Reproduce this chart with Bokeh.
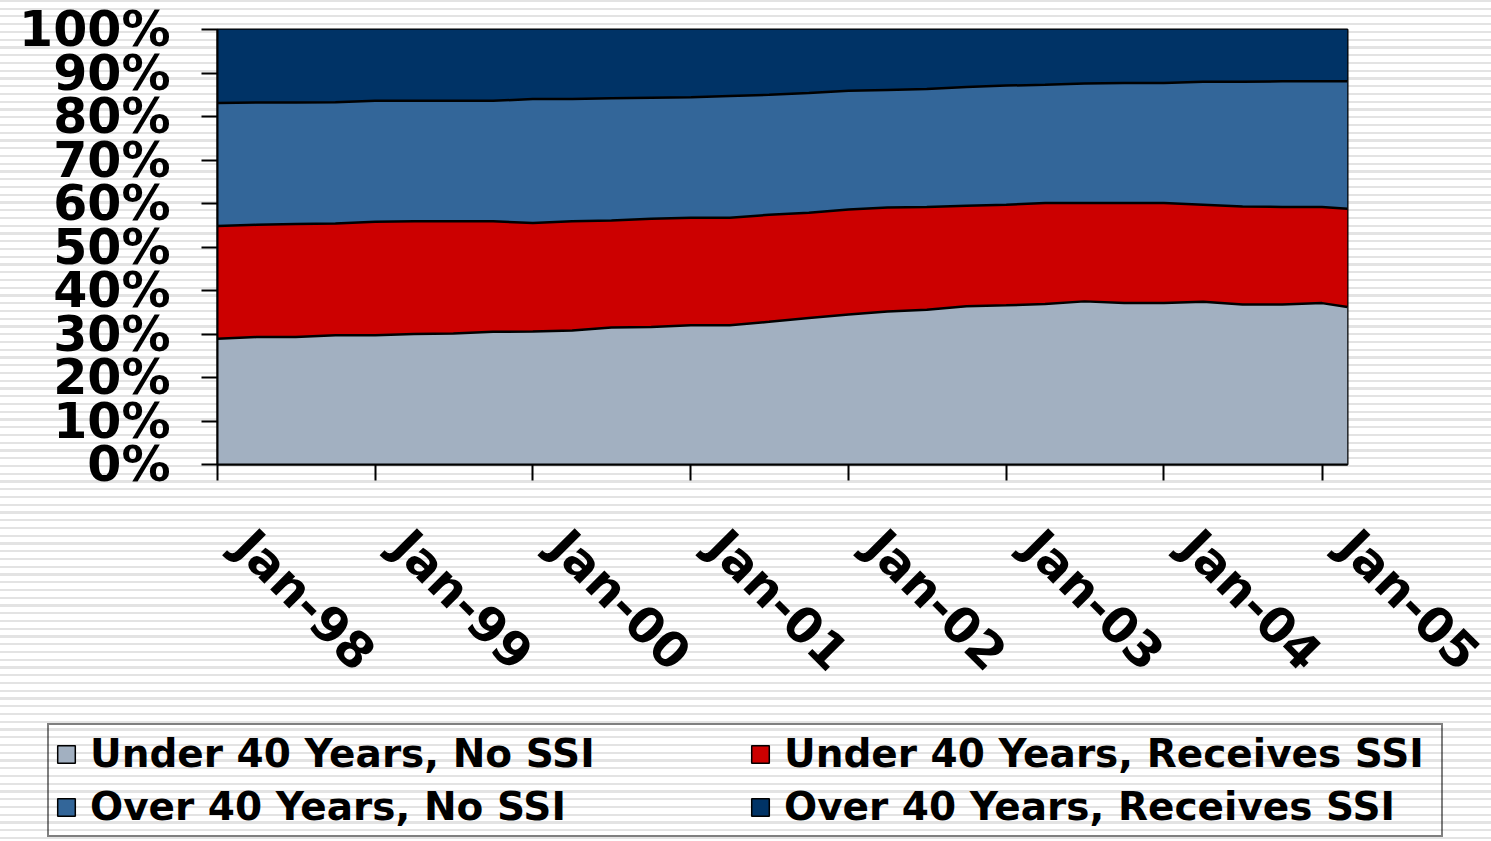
import math
import pandas as pd
from bokeh.plotting import figure
from bokeh.layouts import column
from bokeh.models import (ColumnDataSource, Range1d, FixedTicker, DatetimeTickFormatter,
                          PrintfTickFormatter, Legend, LegendItem, DatetimeAxis,
                          CustomJSTickFormatter)
from bokeh.embed import file_html
from bokeh.resources import INLINE

# ---------------- data (percent shares) ----------------
dates = ["1998-01", "1998-04", "1998-07", "1998-10",
         "1999-01", "1999-04", "1999-07", "1999-10",
         "2000-01", "2000-04", "2000-07", "2000-10",
         "2001-01", "2001-04", "2001-07", "2001-10",
         "2002-01", "2002-04", "2002-07", "2002-10",
         "2003-01", "2003-04", "2003-07", "2003-10",
         "2004-01", "2004-04", "2004-07", "2004-10",
         "2005-01", "2005-03"]

under40_no_ssi = [28.9, 29.3, 29.3, 29.7, 29.7, 30.0, 30.1, 30.5, 30.6, 30.8,
                  31.5, 31.6, 32.0, 32.0, 32.8, 33.7, 34.5, 35.2, 35.6, 36.4,
                  36.6, 36.9, 37.5, 37.1, 37.1, 37.4, 36.8, 36.8, 37.1, 36.2]
under40_receives_ssi = [25.9, 25.8, 26.0, 25.7, 26.1, 25.9, 25.8, 25.4, 24.9, 25.1,
                        24.6, 24.9, 24.7, 24.7, 24.6, 24.2, 24.1, 23.9, 23.6, 23.1,
                        23.1, 23.2, 22.6, 23.0, 23.0, 22.3, 22.5, 22.4, 22.1, 22.6]
over40_no_ssi = [28.3, 28.1, 27.9, 27.9, 27.8, 27.7, 27.7, 27.7, 28.5, 28.1,
                 28.1, 27.8, 27.7, 28.0, 27.6, 27.5, 27.3, 27.0, 27.1, 27.3,
                 27.4, 27.2, 27.5, 27.6, 27.6, 28.3, 28.7, 28.9, 28.9, 29.3]
over40_receives_ssi = [16.9, 16.8, 16.8, 16.7, 16.4, 16.4, 16.4, 16.4, 16.0, 16.0,
                       15.8, 15.7, 15.6, 15.3, 15.0, 14.6, 14.1, 13.9, 13.7, 13.2,
                       12.9, 12.7, 12.4, 12.3, 12.3, 12.0, 12.0, 11.9, 11.9, 11.9]

series_labels = ["Under 40 Years, No SSI", "Under 40 Years, Receives SSI",
                 "Over 40 Years, No SSI", "Over 40 Years, Receives SSI"]
series_colors = ["#A2B0C1", "#CC0000", "#336699", "#003366"]
tick_years = [1998, 1999, 2000, 2001, 2002, 2003, 2004, 2005]
y_ticks = [0, 10, 20, 30, 40, 50, 60, 70, 80, 90, 100]

# ---------------- main chart ----------------
FONT = "DejaVu Sans"
STRIPES = ("repeating-linear-gradient(180deg, #e3e3e3 0px, #e3e3e3 2px, "
           "#ffffff 2px, #ffffff 7.75px)")

source = ColumnDataSource(dict(
    date=pd.to_datetime(dates),
    u40_no=under40_no_ssi,
    u40_ssi=under40_receives_ssi,
    o40_no=over40_no_ssi,
    o40_ssi=over40_receives_ssi,
))
stackers = ["u40_no", "u40_ssi", "o40_no", "o40_ssi"]

x_start = pd.Timestamp("1998-01-01")
x_end = pd.Timestamp("2005-03-01")

p = figure(frame_width=1130, frame_height=435, x_axis_type="datetime",
           output_backend="svg", toolbar_location=None,
           x_range=Range1d(x_start, x_end), y_range=Range1d(0, 100),
           min_border_left=217, min_border_right=144,
           min_border_top=29, min_border_bottom=251)

p.border_fill_alpha = 0
p.background_fill_alpha = 0
p.outline_line_color = "black"
p.outline_line_width = 2
p.xgrid.visible = False
p.ygrid.visible = False

p.varea_stack(stackers=stackers, x="date", color=series_colors, source=source)
p.vline_stack(stackers=stackers[:3], x="date", color="black", line_width=2.5, source=source)

jan_ticks = [pd.Timestamp(f"{y}-01-01").timestamp() * 1000 for y in tick_years]
fmt = "%b-%y"
date_fmt = DatetimeTickFormatter(microseconds=fmt, milliseconds=fmt, seconds=fmt,
                                 minsec=fmt, minutes=fmt, hourmin=fmt, hours=fmt,
                                 days=fmt, months=fmt, years=fmt)

# primary x axis: tick marks only
xa = p.xaxis[0]
xa.ticker = FixedTicker(ticks=jan_ticks)
xa.formatter = CustomJSTickFormatter(code="return ''")
xa.major_label_standoff = 0

ya = p.yaxis[0]
ya.ticker = FixedTicker(ticks=y_ticks)
ya.formatter = PrintfTickFormatter(format="%d%%")
ya.major_label_standoff = 31

for ax in (xa, ya):
    ax.axis_line_color = "black"
    ax.axis_line_width = 2
    ax.major_tick_line_color = "black"
    ax.major_tick_line_width = 2
    ax.major_tick_out = 16
    ax.major_tick_in = 0
    ax.minor_tick_line_color = None
    ax.major_label_text_font = FONT
    ax.major_label_text_font_style = "bold"
    ax.major_label_text_font_size = "49px"
    ax.major_label_text_color = "black"

# label axis: same Jan ticks, each label set just right of its tick (as in the reference)
shift = pd.Timedelta(days=58)
p.extra_x_ranges = {"labels": Range1d(x_start - shift, x_end - shift)}
lab = DatetimeAxis(x_range_name="labels", ticker=FixedTicker(ticks=jan_ticks), formatter=date_fmt)
lab.axis_line_color = None
lab.major_tick_line_color = None
lab.major_tick_out = 0
lab.major_tick_in = 0
lab.minor_tick_line_color = None
lab.major_label_orientation = -math.pi / 4
lab.major_label_standoff = 58
lab.major_label_text_font = FONT
lab.major_label_text_font_style = "bold"
lab.major_label_text_font_size = "49px"
lab.major_label_text_color = "black"
p.add_layout(lab, "below")

# ---------------- legend strip ----------------
pl = figure(width=1491, height=126, output_backend="svg", toolbar_location=None,
            x_range=Range1d(0, 1), y_range=Range1d(0, 1), min_border=0)
pl.axis.visible = False
pl.grid.visible = False
pl.outline_line_color = None
pl.border_fill_alpha = 0
pl.background_fill_alpha = 0
if hasattr(p, "frame_align"):
    p.frame_align = False
    pl.frame_align = False

# legend swatches: one off-screen quad per series, only used for the legend glyph
items = []
for lab_text, col in zip(series_labels, series_colors):
    r = pl.quad(left=[-3], right=[-2], top=[-2], bottom=[-3], fill_color=col,
                line_color="black", line_width=1.5)
    items.append(LegendItem(label=lab_text, renderers=[r]))

legend = Legend(items=items, location=(47, 4), orientation="horizontal", ncols=2,
                label_text_font=FONT, label_text_font_style="bold",
                label_text_font_size="39px", label_text_color="black",
                label_width=651, label_height=45, label_standoff=13,
                glyph_width=22, glyph_height=22, spacing=8, padding=6, margin=0,
                border_line_color="black", border_line_width=2,
                background_fill_alpha=0)
pl.add_layout(legend)

page = column(p, pl, spacing=0, styles={"background-image": STRIPES})

open("out.html", "w").write(file_html(page, INLINE))
